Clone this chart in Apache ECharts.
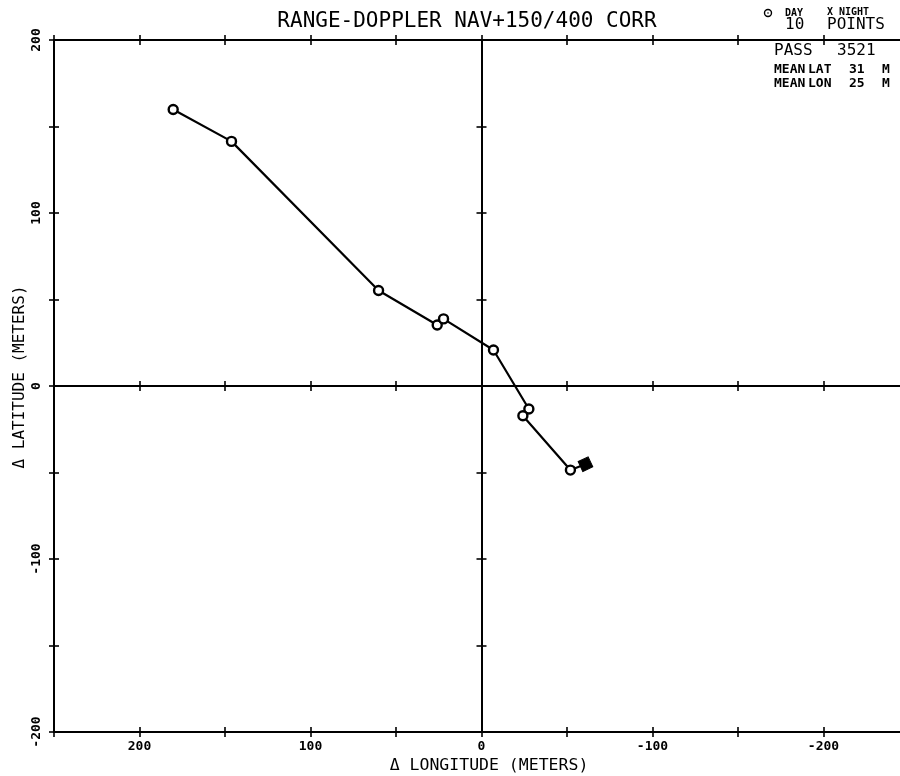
<!DOCTYPE html>
<html>
<head>
<meta charset="utf-8">
<script src="https://cdn.jsdelivr.net/npm/echarts@6/dist/echarts.min.js"></script>
<style>
html,body{margin:0;padding:0;background:#fff;}
#chart{width:900px;height:776px;}
</style>
</head>
<body>
<div id="chart"></div>
<script>
// ---- data ----
const lonValues = [180.3, 146.2, 60.2, 25.9, 22.2, -7.0, -27.7, -24.2, -52.0, -60.8];
const latValues = [159.8, 141.4, 55.2, 35.3, 38.8, 20.8, -13.3, -17.2, -48.6, -45.2];
const xTickLabels = [200, 100, 0, -100, -200];
const yTickLabels = [200, 100, 0, -100, -200];
const titleText = 'RANGE-DOPPLER NAV+150/400 CORR';
const xName = '\u0394 LONGITUDE (METERS)';
const yName = '\u0394 LATITUDE (METERS)';

const FONT = 'DejaVu Sans Mono';
const GRID = {left: 54, top: 40, width: 855, height: 692};

function axisBase(dim, gridIndex, position, onZero, inside, withLabels) {
  const isX = dim === 'x';
  const labels = isX ? xTickLabels : yTickLabels;
  return {
    type: 'value',
    gridIndex: gridIndex,
    position: position,
    min: isX ? -250 : -200,
    max: isX ? 250 : 200,
    interval: 50,
    inverse: isX,
    splitLine: {show: false},
    axisLine: {show: true, onZero: onZero, lineStyle: {color: '#000', width: 2}},
    axisTick: {show: true, inside: inside, length: 5, lineStyle: {color: '#000', width: 1.6}},
    axisLabel: withLabels ? {
      show: true,
      showMinLabel: true, showMaxLabel: true,
      rotate: isX ? 0 : 90,
      margin: isX ? 8 : 11,
      color: '#000',
      fontFamily: FONT, fontWeight: 'bold', fontSize: 13,
      formatter: function (v) { return labels.indexOf(v) >= 0 ? String(v) : ''; }
    } : {show: false}
  };
}

const grids = [0, 1, 2, 3].map(() => Object.assign({containLabel: false, outerBoundsMode: 'none'}, GRID));

const xAxes = [
  axisBase('x', 0, 'bottom', false, false, true),
  axisBase('x', 0, 'top', false, false, false),
  axisBase('x', 1, 'bottom', false, true, false),
  axisBase('x', 1, 'top', false, true, false),
  axisBase('x', 2, 'bottom', true, false, false),
  axisBase('x', 3, 'bottom', true, true, false)
];
const yAxes = [
  axisBase('y', 0, 'left', false, false, true),
  axisBase('y', 1, 'left', false, true, false),
  axisBase('y', 2, 'left', true, false, false),
  axisBase('y', 3, 'left', true, true, false)
];

const points = lonValues.map((x, i) => {
  const last = i === lonValues.length - 1;
  return last ? {
    value: [x, latValues[i]],
    symbol: 'rect', symbolSize: 11, symbolRotate: 25,
    itemStyle: {color: '#000', borderColor: '#000', borderWidth: 1}
  } : {value: [x, latValues[i]]};
});

const chart = echarts.init(document.getElementById('chart'), null, {renderer: 'canvas'});
chart.setOption({
  backgroundColor: '#fff',
  animation: false,
  grid: grids,
  xAxis: xAxes,
  yAxis: yAxes,
  series: [{
    type: 'line',
    xAxisIndex: 0, yAxisIndex: 0,
    data: points,
    symbol: 'circle',
    symbolSize: 9,
    showAllSymbol: true,
    lineStyle: {color: '#000', width: 2.2},
    itemStyle: {color: '#fff', borderColor: '#000', borderWidth: 2.4},
    z: 5
  }],
  graphic: [
    {type: 'text', x: 467, y: 22, style: {text: titleText, font: '21px "DejaVu Sans Mono"', fill: '#000', align: 'center', verticalAlign: 'middle'}},
    {type: 'text', x: 489, y: 766, style: {text: xName, font: '16.5px "DejaVu Sans Mono"', fill: '#000', align: 'center', verticalAlign: 'middle'}},
    {type: 'text', x: 20, y: 377, rotation: Math.PI / 2, style: {text: yName, font: '16px "DejaVu Sans Mono"', fill: '#000', align: 'center', verticalAlign: 'middle'}},
    // legend / stats block
    {type: 'circle', shape: {cx: 768, cy: 13, r: 3.5}, style: {fill: 'none', stroke: '#000', lineWidth: 1.4}},
    {type: 'circle', shape: {cx: 768, cy: 13, r: 0.8}, style: {fill: '#000'}},
    {type: 'text', x: 785, y: 13, style: {text: 'DAY', font: 'bold 10px "DejaVu Sans Mono"', fill: '#000', verticalAlign: 'middle'}},
    {type: 'text', x: 827, y: 12, style: {text: 'X NIGHT', font: 'bold 10px "DejaVu Sans Mono"', fill: '#000', verticalAlign: 'middle'}},
    {type: 'text', x: 785, y: 25, style: {text: '10', font: '16px "DejaVu Sans Mono"', fill: '#000', verticalAlign: 'middle'}},
    {type: 'text', x: 827, y: 25, style: {text: 'POINTS', font: '16px "DejaVu Sans Mono"', fill: '#000', verticalAlign: 'middle'}},
    {type: 'text', x: 774, y: 51, style: {text: 'PASS', font: '16px "DejaVu Sans Mono"', fill: '#000', verticalAlign: 'middle'}},
    {type: 'text', x: 837, y: 51, style: {text: '3521', font: '16px "DejaVu Sans Mono"', fill: '#000', verticalAlign: 'middle'}},
    {type: 'text', x: 774, y: 70, style: {text: 'MEAN', font: 'bold 13px "DejaVu Sans Mono"', fill: '#000', verticalAlign: 'middle'}},
    {type: 'text', x: 808, y: 70, style: {text: 'LAT', font: 'bold 13px "DejaVu Sans Mono"', fill: '#000', verticalAlign: 'middle'}},
    {type: 'text', x: 849, y: 70, style: {text: '31', font: 'bold 13px "DejaVu Sans Mono"', fill: '#000', verticalAlign: 'middle'}},
    {type: 'text', x: 882, y: 70, style: {text: 'M', font: 'bold 13px "DejaVu Sans Mono"', fill: '#000', verticalAlign: 'middle'}},
    {type: 'text', x: 774, y: 84, style: {text: 'MEAN', font: 'bold 13px "DejaVu Sans Mono"', fill: '#000', verticalAlign: 'middle'}},
    {type: 'text', x: 808, y: 84, style: {text: 'LON', font: 'bold 13px "DejaVu Sans Mono"', fill: '#000', verticalAlign: 'middle'}},
    {type: 'text', x: 849, y: 84, style: {text: '25', font: 'bold 13px "DejaVu Sans Mono"', fill: '#000', verticalAlign: 'middle'}},
    {type: 'text', x: 882, y: 84, style: {text: 'M', font: 'bold 13px "DejaVu Sans Mono"', fill: '#000', verticalAlign: 'middle'}}
  ]
});
</script>
</body>
</html>
